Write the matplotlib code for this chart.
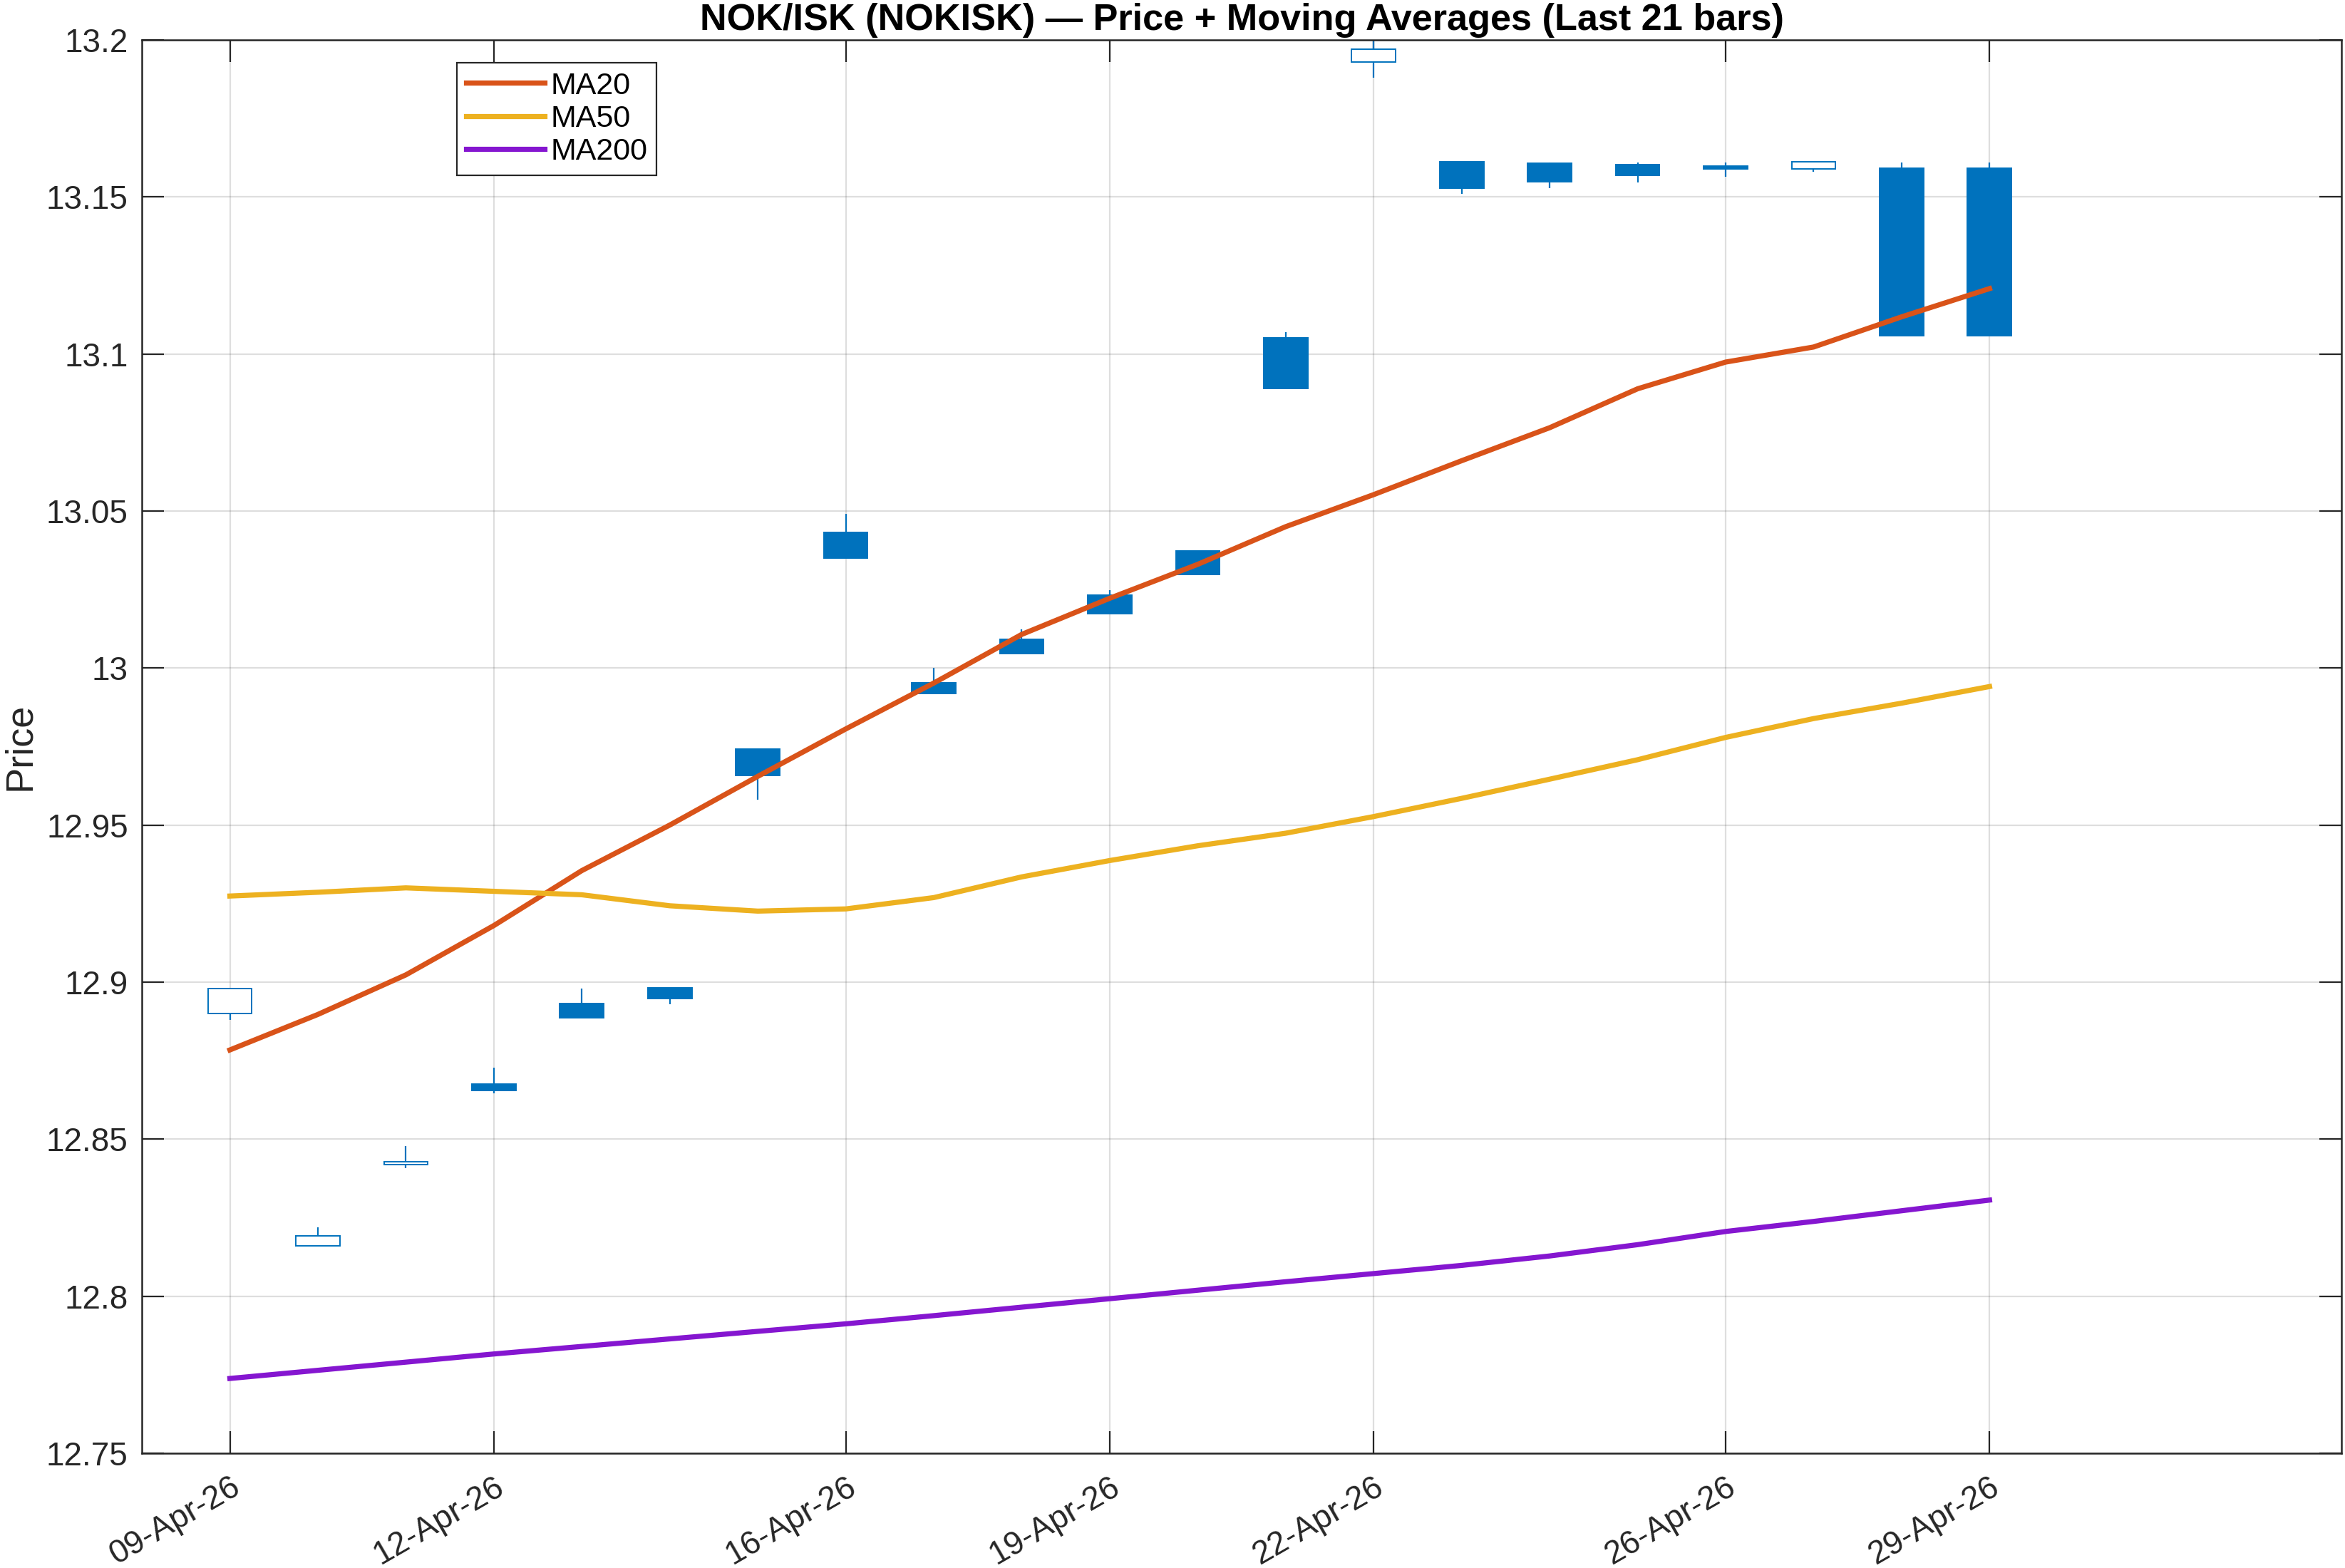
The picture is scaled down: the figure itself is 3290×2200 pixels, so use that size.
import matplotlib
matplotlib.use('Agg')

import matplotlib.pyplot as plt
import matplotlib.dates as mdates
import numpy as np
import datetime

plt.rcParams['font.family'] = ['Liberation Sans', 'DejaVu Sans']

# Daily bars, last 21 sessions
dates = ['2026-04-09', '2026-04-10', '2026-04-11', '2026-04-12', '2026-04-13',
         '2026-04-14', '2026-04-15', '2026-04-16', '2026-04-17', '2026-04-18',
         '2026-04-19', '2026-04-20', '2026-04-21', '2026-04-22', '2026-04-23',
         '2026-04-24', '2026-04-25', '2026-04-26', '2026-04-27', '2026-04-28',
         '2026-04-29']

opens = [12.8900, 12.8160, 12.8420, 12.8675, 12.8931, 12.8981, 12.9742,
         13.0432, 12.9952, 13.0092, 13.0232, 13.0373, 13.1052, 13.1929,
         13.1612, 13.1608, 13.1602, 13.1598, 13.1589, 13.1591, 13.1591]
highs = [12.8980, 12.8220, 12.8477, 12.8727, 12.8979, 12.8981, 12.9742,
         13.0490, 13.0000, 13.0124, 13.0247, 13.0373, 13.1069, 13.2010,
         13.1612, 13.1610, 13.1610, 13.1610, 13.1611, 13.1610, 13.1610]
lows = [12.8880, 12.8160, 12.8407, 12.8646, 12.8887, 12.8929, 12.9580,
        13.0349, 12.9918, 13.0046, 13.0173, 13.0298, 13.0889, 13.1880,
        13.1510, 13.1528, 13.1545, 13.1563, 13.1580, 13.1059, 13.1059]
closes = [12.8980, 12.8191, 12.8428, 12.8655, 12.8887, 12.8947, 12.9659,
          13.0349, 12.9918, 13.0046, 13.0173, 13.0298, 13.0889, 13.1971,
          13.1528, 13.1548, 13.1569, 13.1589, 13.1611, 13.1059, 13.1059]

ma20 = [12.8784, 12.8897, 12.9023, 12.9180, 12.9355, 12.9500, 12.9655,
        12.9806, 12.9952, 13.0107, 13.0222, 13.0330, 13.0450, 13.0552,
        13.0660, 13.0765, 13.0889, 13.0974, 13.1022, 13.1118, 13.1208]
ma50 = [12.9274, 12.9286, 12.9300, 12.9289, 12.9278, 12.9243, 12.9226,
        12.9233, 12.9269, 12.9335, 12.9387, 12.9434, 12.9474, 12.9527,
        12.9585, 12.9646, 12.9708, 12.9779, 12.9839, 12.9888, 12.9941]
ma200 = [12.7738, 12.7764, 12.7790, 12.7816, 12.7840, 12.7864, 12.7888,
         12.7912, 12.7938, 12.7965, 12.7992, 12.8019, 12.8046, 12.8072,
         12.8098, 12.8128, 12.8164, 12.8206, 12.8238, 12.8272, 12.8306]

tickDates = ['2026-04-09', '2026-04-12', '2026-04-16', '2026-04-19',
             '2026-04-22', '2026-04-26', '2026-04-29']

candleColor = '#0072BD'
axColor = '#262626'

x = mdates.date2num([datetime.datetime.strptime(d, '%Y-%m-%d') for d in dates])
xt = mdates.date2num([datetime.datetime.strptime(d, '%Y-%m-%d') for d in tickDates])

fig = plt.figure(figsize=(16.455, 11), dpi=200)
ax = fig.add_axes([0.0605, 0.0732, 0.9377, 0.9014])

# Candles: wick first, box on top (filled when close < open)
for i in range(len(x)):
    ax.vlines(x[i], lows[i], highs[i], color=candleColor, lw=0.8, zorder=2)
    lo = min(opens[i], closes[i])
    hgt = abs(closes[i] - opens[i])
    face = candleColor if closes[i] < opens[i] else 'white'
    ax.bar(x[i], hgt, bottom=lo, width=0.5, facecolor=face,
           edgecolor=candleColor, linewidth=0.7, zorder=3)

ax.plot(x, ma20, color='#D95319', lw=2.6, label='MA20', zorder=4)
ax.plot(x, ma50, color='#EDB120', lw=2.6, label='MA50', zorder=4)
ax.plot(x, ma200, color='#8516D0', lw=2.6, label='MA200', zorder=4)

ax.set_xlim(x[0] - 1, x[0] + 24)
ax.set_ylim(12.75, 13.2)
ax.set_yticks(np.arange(12.75, 13.2001, 0.05))
ax.set_yticklabels(['12.75', '12.8', '12.85', '12.9', '12.95', '13',
                    '13.05', '13.1', '13.15', '13.2'])
ax.set_xticks(xt)
ax.xaxis.set_major_formatter(mdates.DateFormatter('%d-%b-%y'))
plt.setp(ax.get_xticklabels(), rotation=30, ha='right', rotation_mode='anchor')

ax.tick_params(direction='in', length=11.2, width=0.8, colors=axColor,
               labelsize=16.5, top=True, right=True, pad=7)
ax.tick_params(axis='x', pad=9)
for s in ax.spines.values():
    s.set_color(axColor)
    s.set_linewidth(0.9)

ax.grid(True, color=axColor, alpha=0.15, lw=0.8)
ax.set_axisbelow(True)

ax.set_title('NOK/ISK (NOKISK) \u2014 Price + Moving Averages (Last 21 bars)',
             fontsize=18.8, fontweight='bold', color='black', pad=5)
ax.set_ylabel('Price', fontsize=19.5, color=axColor)
ax.yaxis.set_label_coords(-0.0475, 0.5)

leg = ax.legend(loc='upper left', bbox_to_anchor=(0.1432, 0.984),
                borderaxespad=0, fancybox=False, framealpha=1,
                edgecolor=axColor, fontsize=15.5, handlelength=2.55,
                handletextpad=0.2, borderpad=0.3, labelspacing=0.15)
leg.get_frame().set_linewidth(0.8)

plt.savefig('out.png', dpi=200)
plt.close(fig)
